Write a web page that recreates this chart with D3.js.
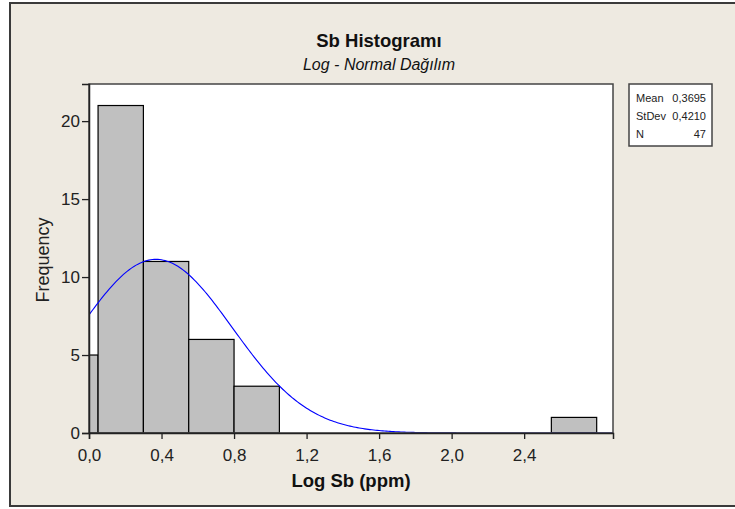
<!DOCTYPE html>
<html>
<head>
<meta charset="utf-8">
<script src="https://cdn.jsdelivr.net/npm/d3@7"></script>
<style>
  body { margin: 0; background: #fff; }
  svg { display: block; }
</style>
</head>
<body>
<div id="chart"></div>
<script>
// histogram bins (lower edge, width 0.25) and their counts
var binStarts = [-0.2, 0.05, 0.3, 0.55, 0.8, 1.05, 1.3, 1.55, 1.8, 2.05, 2.3, 2.55];
var binCounts = [5, 21, 11, 6, 3, 0, 0, 0, 0, 0, 0, 1];
var binWidth = 0.25;
var xTicks = [0, 0.4, 0.8, 1.2, 1.6, 2.0, 2.4];
var yTicks = [0, 5, 10, 15, 20];
var statLabels = ['Mean', 'StDev', 'N'];
var statValues = ['0,3695', '0,4210', '47'];
var mean = 0.3695, stdev = 0.4210, n = 47;

var width = 735, height = 509;
var plot = { left: 89, top: 84, right: 613, bottom: 433 };
var font = 'Liberation Sans, Arial, sans-serif';
var fmt = function(d) { return d3.format('.1f')(d).replace('.', ','); };

var svg = d3.select('#chart').append('svg')
    .attr('width', width)
    .attr('height', height);

// figure background and frame
svg.append('rect')
    .attr('x', 10).attr('y', 3)
    .attr('width', 740).attr('height', 503)
    .attr('fill', '#EEEAE1')
    .attr('stroke', '#3a3a3a')
    .attr('stroke-width', 2);

var x = d3.scaleLinear().domain([0, 2.89]).range([plot.left, plot.right]);
var y = d3.scaleLinear().domain([0, 22.38]).range([plot.bottom, plot.top]);

svg.append('rect')
    .attr('x', plot.left).attr('y', plot.top)
    .attr('width', plot.right - plot.left).attr('height', plot.bottom - plot.top)
    .attr('fill', '#fff');

svg.append('clipPath').attr('id', 'clip')
  .append('rect')
    .attr('x', plot.left).attr('y', plot.top - 1)
    .attr('width', plot.right - plot.left).attr('height', plot.bottom - plot.top + 1);

var g = svg.append('g').attr('clip-path', 'url(#clip)');

var bins = binStarts.map(function(s, i) { return { x0: s, x1: s + binWidth, count: binCounts[i] }; })
    .filter(function(d) { return d.count > 0; });

g.selectAll('rect.bar').data(bins).enter().append('rect')
    .attr('class', 'bar')
    .attr('x', function(d) { return x(d.x0); })
    .attr('y', function(d) { return y(d.count); })
    .attr('width', function(d) { return x(d.x1) - x(d.x0); })
    .attr('height', function(d) { return y(0) - y(d.count); })
    .attr('fill', '#C0C0C0')
    .attr('stroke', '#000')
    .attr('stroke-width', 1.2);

// fitted normal curve scaled to counts
var curveX = d3.range(0, 2.9, 0.01);
var dens = function(v) {
  var z = (v - mean) / stdev;
  return n * binWidth * Math.exp(-0.5 * z * z) / (stdev * Math.sqrt(2 * Math.PI));
};
var line = d3.line()
    .x(function(d) { return x(d); })
    .y(function(d) { return y(dens(d)); });

g.append('path').datum(curveX)
    .attr('d', line)
    .attr('fill', 'none')
    .attr('stroke', '#0000FF')
    .attr('stroke-width', 1.1);

// plot frame
svg.append('rect')
    .attr('x', plot.left).attr('y', plot.top)
    .attr('width', plot.right - plot.left).attr('height', plot.bottom - plot.top)
    .attr('fill', 'none')
    .attr('stroke', '#444')
    .attr('stroke-width', 1.5);

var xAxis = svg.append('g')
    .attr('transform', 'translate(0,' + plot.bottom + ')')
    .call(d3.axisBottom(x).tickValues(xTicks).tickFormat(fmt).tickSize(6).tickPadding(10));
var yAxis = svg.append('g')
    .attr('transform', 'translate(' + plot.left + ',0)')
    .call(d3.axisLeft(y).tickValues(yTicks).tickSize(7).tickPadding(2));

[xAxis, yAxis].forEach(function(a) {
  a.select('.domain').attr('stroke', '#222').attr('stroke-width', 1.5);
  a.selectAll('.tick line').attr('stroke', '#222').attr('stroke-width', 1.3);
  a.selectAll('text')
      .attr('fill', '#222')
      .style('font-family', font)
      .style('font-size', '17px');
});

// titles
svg.append('text')
    .attr('x', 379).attr('y', 46.5)
    .attr('text-anchor', 'middle')
    .style('font-family', font)
    .style('font-size', '18.5px').style('font-weight', 'bold')
    .attr('fill', '#111')
    .text('Sb Histogramı');

svg.append('text')
    .attr('x', 379).attr('y', 69.5)
    .attr('text-anchor', 'middle')
    .style('font-family', font)
    .style('font-size', '16px').style('font-style', 'italic')
    .attr('fill', '#111')
    .text('Log - Normal  Dağılım');

svg.append('text')
    .attr('x', (plot.left + plot.right) / 2).attr('y', 487)
    .attr('text-anchor', 'middle')
    .style('font-family', font)
    .style('font-size', '18.5px').style('font-weight', 'bold')
    .attr('fill', '#111')
    .text('Log Sb (ppm)');

svg.append('text')
    .attr('transform', 'translate(49,260) rotate(-90)')
    .attr('text-anchor', 'middle')
    .style('font-family', font)
    .style('font-size', '18px')
    .attr('fill', '#222')
    .text('Frequency');

// stats box
var legend = svg.append('g').attr('transform', 'translate(629,84)');
legend.append('rect')
    .attr('width', 83).attr('height', 62)
    .attr('fill', '#fff')
    .attr('stroke', '#444')
    .attr('stroke-width', 1.5);
statLabels.forEach(function(l, i) {
  legend.append('text')
      .attr('x', 7).attr('y', 18 + i * 18)
      .style('font-family', font)
      .style('font-size', '11px')
      .attr('fill', '#222')
      .text(l);
  legend.append('text')
      .attr('x', 77).attr('y', 18 + i * 18)
      .attr('text-anchor', 'end')
      .style('font-family', font)
      .style('font-size', '11px')
      .attr('fill', '#222')
      .text(statValues[i]);
});
</script>
</body>
</html>
